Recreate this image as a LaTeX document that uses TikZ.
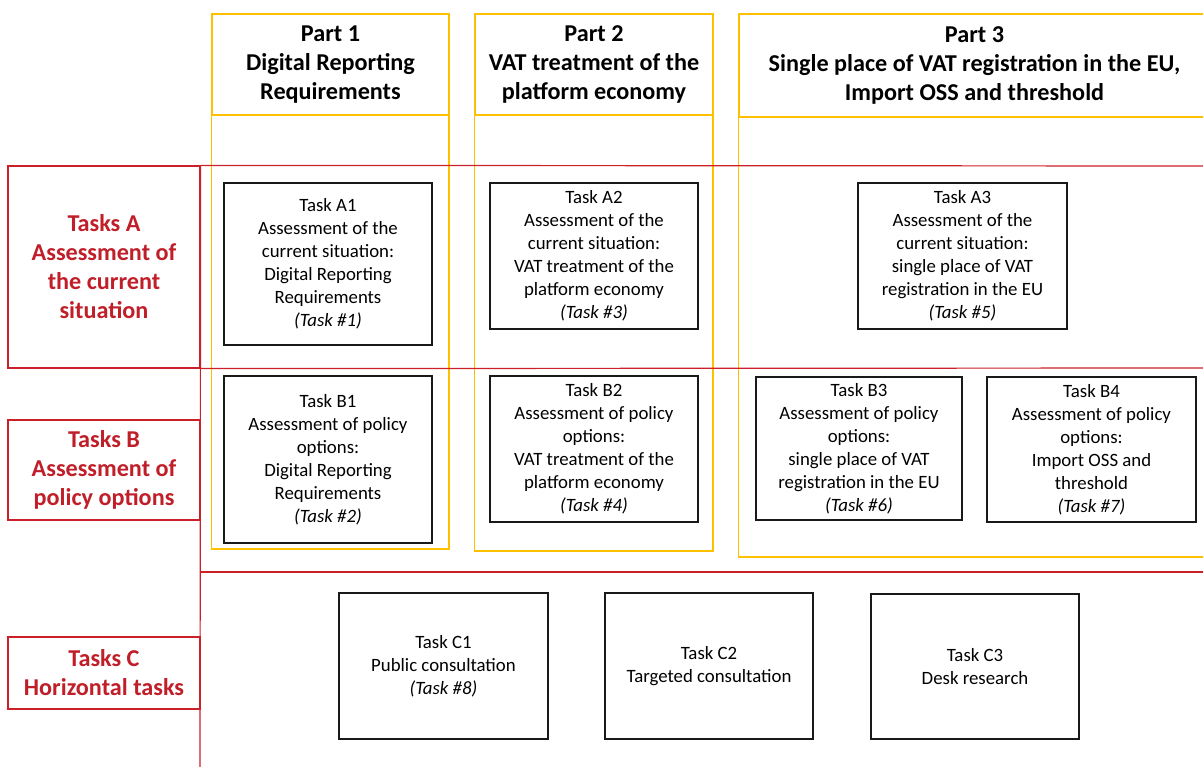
\documentclass[tikz,border=0pt]{standalone}
\usepackage{fontspec}
\setmainfont{Carlito}

\definecolor{partgold}{RGB}{255,192,0}
\definecolor{rowred}{RGB}{204,32,40}
\definecolor{labelred}{RGB}{192,30,40}

\tikzset{
  taskbox/.style 2 args={draw=black!90,line width=1.3pt,fill=white,align=center,inner sep=0pt,
    minimum width=#1pt,minimum height=#2pt,font=\fontsize{18.8}{23}\selectfont},
  parthead/.style 2 args={draw=partgold,line width=1.2pt,align=center,inner sep=0pt,
    minimum width=#1pt,minimum height=#2pt,font=\fontsize{24.2}{29}\selectfont\bfseries},
  rowlabel/.style={draw=rowred,line width=1.2pt,align=center,inner sep=0pt,text=labelred,
    minimum width=192pt,minimum height=#1pt,font=\fontsize{24.2}{29}\selectfont\bfseries},
  partline/.style={draw=partgold,line width=1.2pt},
  rowline/.style={draw=rowred,line width=1.2pt},
}

\begin{document}
\begin{tikzpicture}[x=1pt,y=-1pt]
  \useasboundingbox (0,0) rectangle (1203,767);
  % the three parts (columns)
  \draw
    (330.5,64.5) node[parthead={237}{101}] (p1){Part 1\\Digital Reporting\\Requirements}
    (594,64.5) node[parthead={238}{101}] (p2){Part 2\\VAT treatment of the\\platform economy}
    (974.5,65.5) node[parthead={471}{103}] (p3){Part 3\\Single place of VAT registration in the EU,\\Import OSS and threshold};
  \draw[partline] (p1.south west) rectangle (449,549);
  \draw[partline] (p2.south west) rectangle (713,551);
  \draw[partline] (p3.south west) rectangle (1210,557);
  % the rows of tasks
  \draw
    (104,267) node[rowlabel=202] (ta){Tasks A\\Assessment of\\the current\\situation}
    (104,470) node[rowlabel=100] (tb){Tasks B\\Assessment of\\policy options}
    (104,673) node[rowlabel=72] (tc){Tasks C\\Horizontal tasks};
  \begin{scope}[rowline]
    \draw (ta.north east) -- (1210,166);
    \draw (ta.south east) -- (1210,368);
    \draw (ta.north east) -- (200,770);
    \draw (200,572) -- (1210,572);
  \end{scope}
  % task boxes
  \draw
    (328,264) node[taskbox={208}{162}] (a1){Task A1\\Assessment of the\\current situation:\\Digital Reporting\\Requirements\\\textit{(Task \#1)}}
    (594,256) node[taskbox={208}{146}] (a2){Task A2\\Assessment of the\\current situation:\\VAT treatment of the\\platform economy\\\textit{(Task \#3)}}
    (962.5,256) node[taskbox={209}{146}] (a3){Task A3\\Assessment of the\\current situation:\\single place of VAT\\registration in the EU\\\textit{(Task \#5)}}
    (328,459.5) node[taskbox={208}{167}] (b1){Task B1\\Assessment of policy\\options:\\Digital Reporting\\Requirements\\\textit{(Task \#2)}}
    (594,449) node[taskbox={208}{146}] (b2){Task B2\\Assessment of policy\\options:\\VAT treatment of the\\platform economy\\\textit{(Task \#4)}}
    (859,448.5) node[taskbox={206}{143}] (b3){Task B3\\Assessment of policy\\options:\\single place of VAT\\registration in the EU\\\textit{(Task \#6)}}
    (1091.5,449.5) node[taskbox={209}{145}] (b4){Task B4\\Assessment of policy\\options:\\Import OSS and\\threshold\\\textit{(Task \#7)}}
    (443.5,666) node[taskbox={209}{146}] (c1){Task C1\\Public consultation\\\textit{(Task \#8)}}
    (709,666) node[taskbox={208}{146}] (c2){Task C2\\Targeted consultation}
    (975,666.5) node[taskbox={208}{145}] (c3){Task C3\\Desk research};
\end{tikzpicture}
\end{document}
